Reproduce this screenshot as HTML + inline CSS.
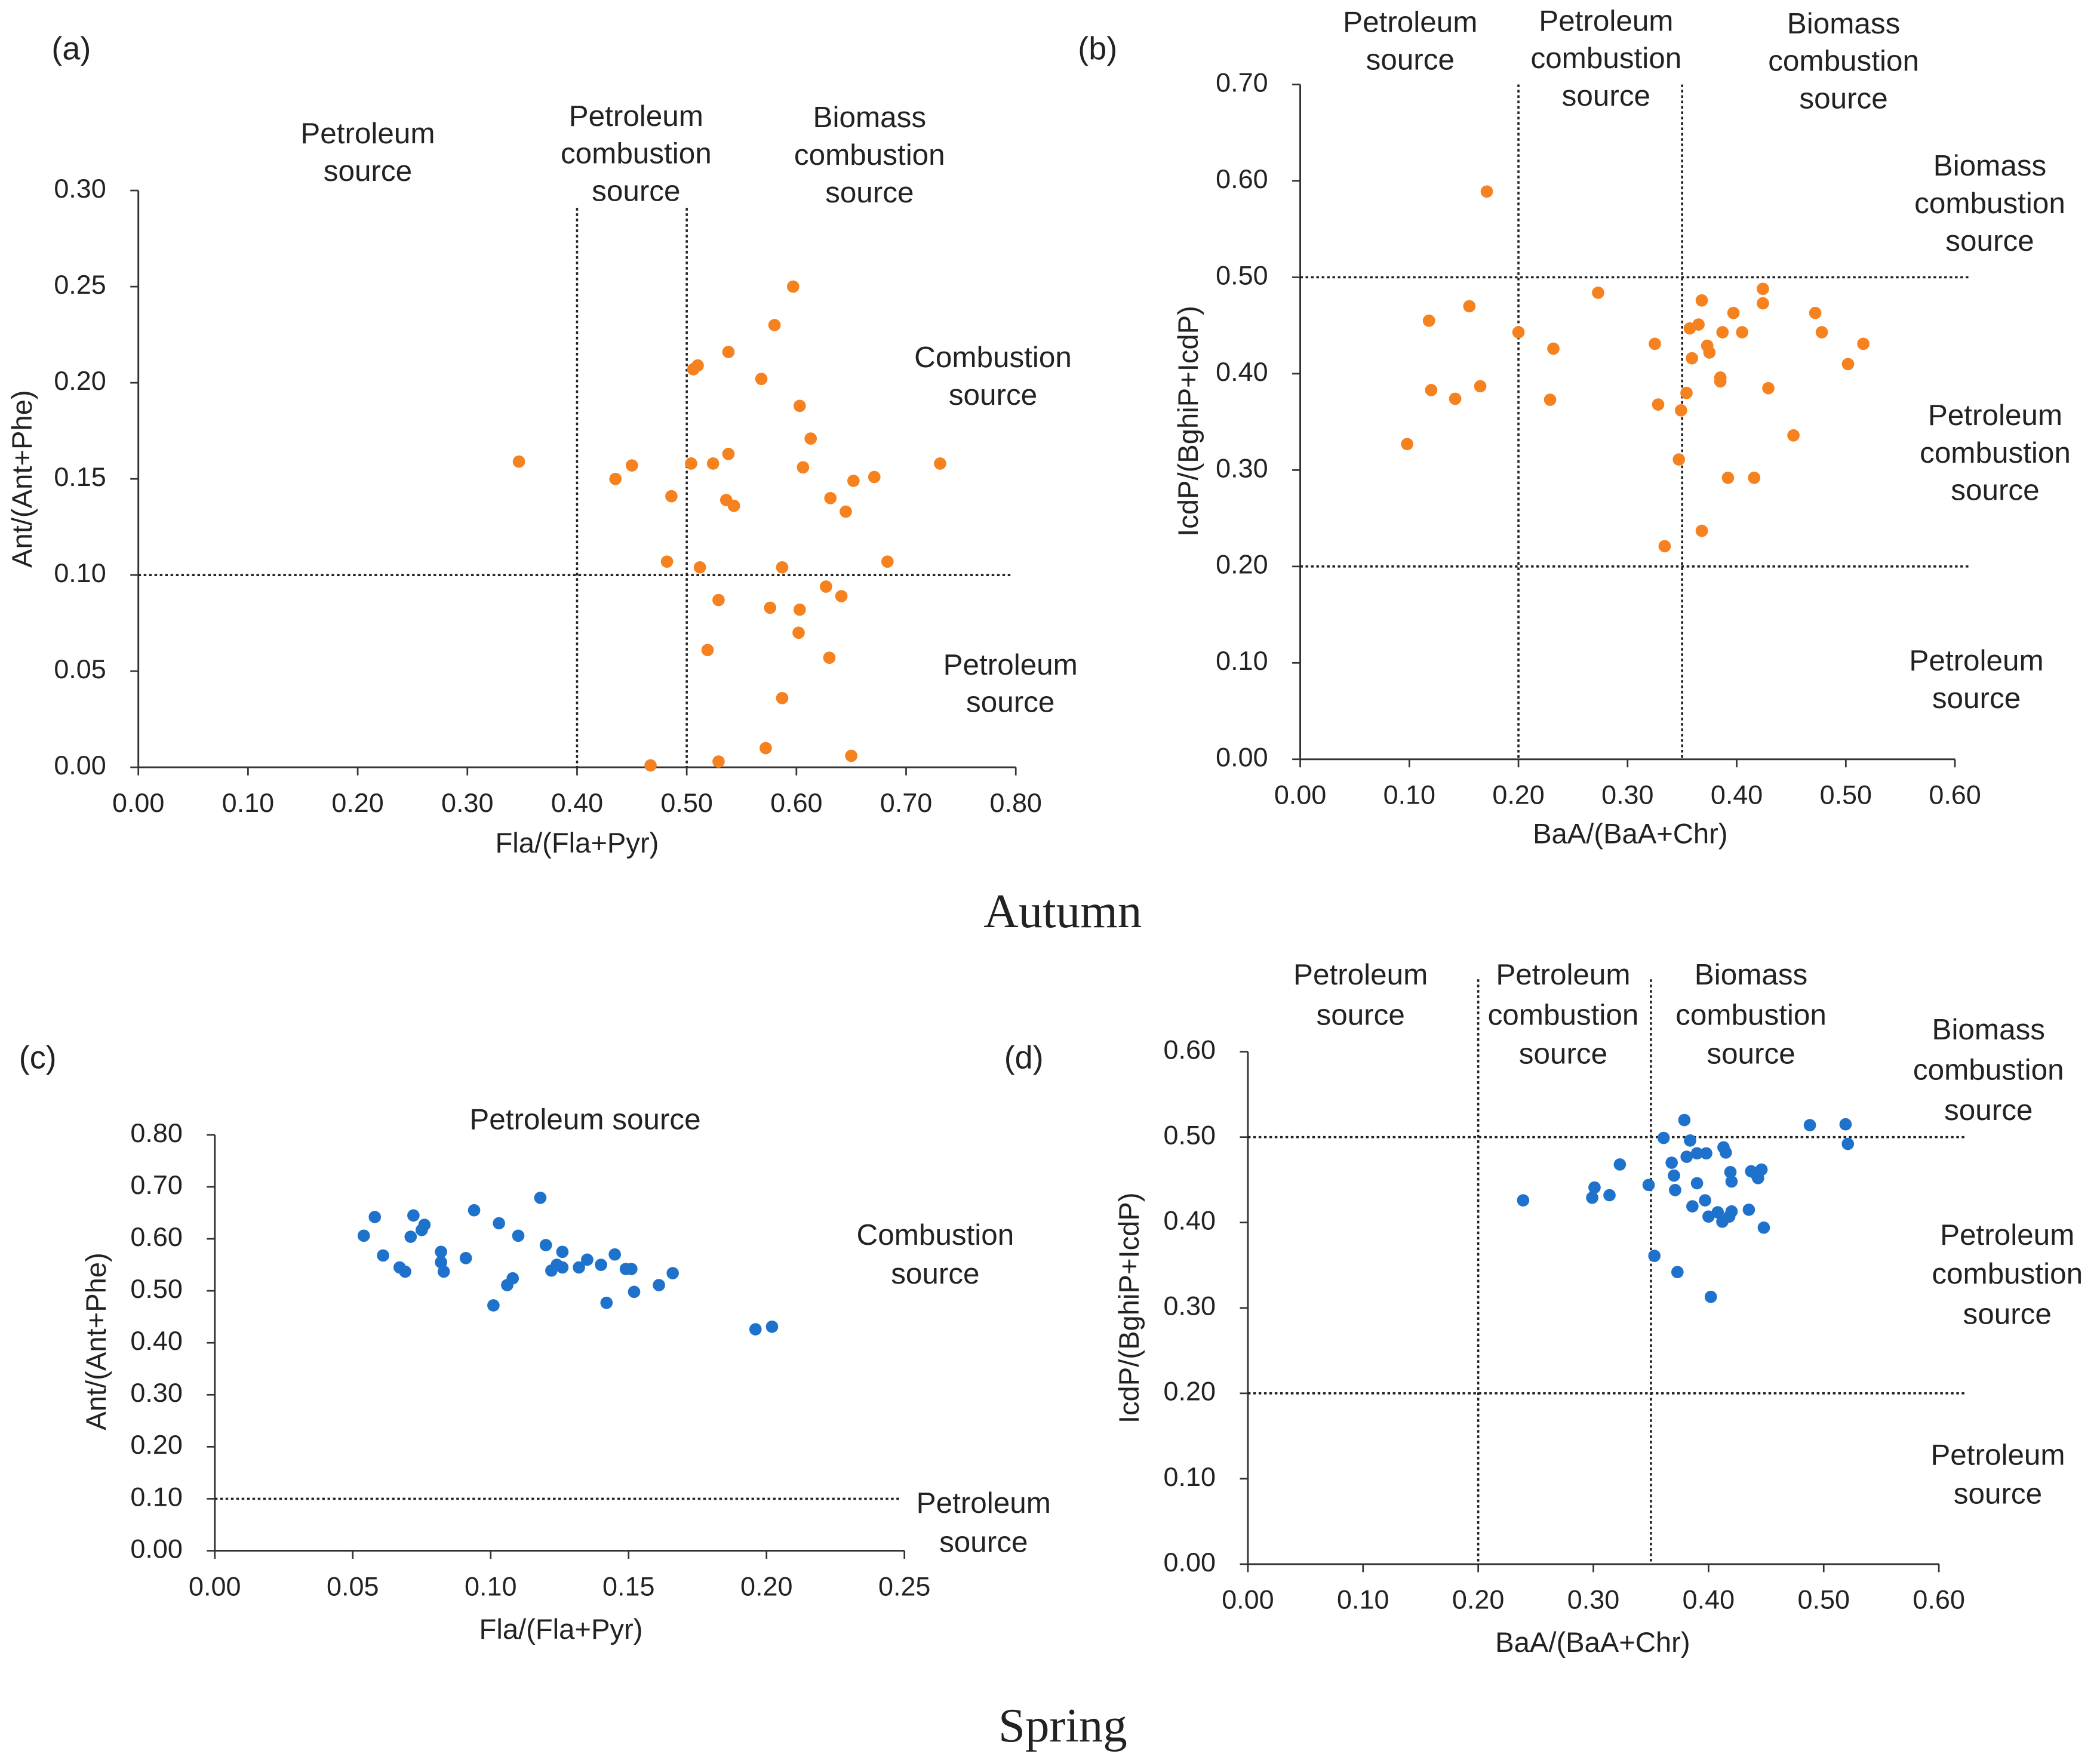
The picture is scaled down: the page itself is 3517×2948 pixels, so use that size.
<!DOCTYPE html>
<html><head><meta charset="utf-8"><style>
html,body{margin:0;padding:0;background:#fff}
svg{display:block}
text{font-family:"Liberation Sans",Arial,sans-serif;fill:#222}
.serif{font-family:"Liberation Serif",serif}
</style></head><body>
<svg id="root" xmlns="http://www.w3.org/2000/svg" width="3517" height="2948" viewBox="0 0 1565 1312"></svg>
<script>
// Panel (a) autumn
const aX=[0.347,0.435,0.450,0.486,0.482,0.467,0.506,0.510,0.504,0.512,0.524,0.529,0.519,0.529,0.538,0.538,0.536,0.543,0.568,0.580,0.597,0.603,0.613,0.606,0.587,0.576,0.603,0.602,0.587,0.572,0.631,0.652,0.645,0.671,0.627,0.641,0.630,0.650,0.683,0.731];
const aY=[0.159,0.150,0.157,0.141,0.107,0.001,0.207,0.209,0.158,0.104,0.158,0.087,0.061,0.003,0.216,0.163,0.139,0.136,0.202,0.230,0.250,0.188,0.171,0.156,0.104,0.083,0.082,0.070,0.036,0.010,0.140,0.149,0.133,0.151,0.094,0.089,0.057,0.006,0.107,0.158];
const aXTicks=["0.00","0.10","0.20","0.30","0.40","0.50","0.60","0.70","0.80"];
const aYTicks=["0.00","0.05","0.10","0.15","0.20","0.25","0.30"];
// Panel (b) autumn
const bX=[0.171,0.098,0.118,0.120,0.142,0.155,0.165,0.200,0.232,0.229,0.273,0.325,0.328,0.334,0.347,0.349,0.354,0.357,0.359,0.365,0.368,0.373,0.375,0.368,0.387,0.385,0.385,0.392,0.397,0.405,0.416,0.424,0.424,0.429,0.452,0.472,0.478,0.502,0.516];
const bY=[0.589,0.327,0.455,0.383,0.374,0.470,0.387,0.443,0.426,0.373,0.484,0.431,0.368,0.221,0.311,0.362,0.380,0.447,0.416,0.451,0.476,0.429,0.422,0.237,0.443,0.396,0.392,0.292,0.463,0.443,0.292,0.488,0.473,0.385,0.336,0.463,0.443,0.410,0.431];
const bXTicks=["0.00","0.10","0.20","0.30","0.40","0.50","0.60"];
const bYTicks=["0.00","0.10","0.20","0.30","0.40","0.50","0.60","0.70"];
// Panel (c) spring
const cX=[0.054,0.058,0.061,0.067,0.069,0.071,0.072,0.075,0.076,0.082,0.082,0.083,0.091,0.094,0.101,0.103,0.106,0.108,0.110,0.118,0.120,0.122,0.124,0.126,0.126,0.132,0.135,0.140,0.142,0.145,0.149,0.151,0.152,0.161,0.166,0.196,0.202];
const cY=[0.606,0.642,0.568,0.545,0.537,0.604,0.645,0.617,0.627,0.575,0.555,0.537,0.563,0.655,0.472,0.630,0.511,0.524,0.606,0.679,0.588,0.539,0.550,0.575,0.545,0.545,0.560,0.550,0.477,0.570,0.542,0.542,0.498,0.511,0.534,0.426,0.431];
const cXTicks=["0.00","0.05","0.10","0.15","0.20","0.25"];
const cYTicks=["0.00","0.10","0.20","0.30","0.40","0.50","0.60","0.70","0.80"];
// Panel (d) spring
const dX=[0.239,0.301,0.299,0.314,0.323,0.348,0.353,0.361,0.368,0.370,0.371,0.373,0.379,0.381,0.384,0.386,0.390,0.390,0.398,0.397,0.400,0.402,0.408,0.412,0.413,0.415,0.418,0.419,0.420,0.420,0.435,0.437,0.441,0.443,0.446,0.448,0.488,0.519,0.521];
const dY=[0.426,0.441,0.429,0.432,0.468,0.444,0.361,0.499,0.470,0.455,0.438,0.342,0.520,0.477,0.496,0.419,0.481,0.446,0.481,0.426,0.407,0.313,0.412,0.401,0.488,0.482,0.407,0.459,0.448,0.413,0.415,0.460,0.457,0.452,0.462,0.394,0.514,0.515,0.492];
const dXTicks=["0.00","0.10","0.20","0.30","0.40","0.50","0.60"];
const dYTicks=["0.00","0.10","0.20","0.30","0.40","0.50","0.60"];

const NS="http://www.w3.org/2000/svg";
const root=document.getElementById('root');
function mk(tag,attrs,parent){const e=document.createElementNS(NS,tag);for(const k in attrs)e.setAttribute(k,attrs[k]);(parent||root).appendChild(e);return e;}
function txt(x,y,s,size,parent,anchor,cls){const t=mk('text',{x:x,y:y,'font-size':size,'text-anchor':anchor||'middle','dominant-baseline':'middle'},parent);if(cls)t.setAttribute('class',cls);t.textContent=s;return t;}
function multi(x,ys,lines,size,g,name){lines.forEach((l,i)=>{const t=txt(x,ys[i],l,size,g);

});}

function panel(o){
  const g=mk('g',{});
  
  
  const sx=v=>o.x0+(v-o.xmin)/(o.xmax-o.xmin)*(o.x1-o.x0);
  const sy=v=>o.y0-(v-o.ymin)/(o.ymax-o.ymin)*(o.y0-o.y1);
  const ax=mk('line',{x1:o.x0,y1:o.y0,x2:o.x1,y2:o.y0,stroke:'#333','stroke-width':1.3},g);
  
  
  const ay=mk('line',{x1:o.x0,y1:o.y0,x2:o.x0,y2:o.y1,stroke:'#333','stroke-width':1.3},g);
  
  
  o.xt.forEach(s=>{const v=parseFloat(s),x=sx(v);
    mk('line',{x1:x,y1:o.y0,x2:x,y2:o.y0+6,stroke:'#333','stroke-width':1.2},g);
    const t=txt(x,o.y0+28,s,20,g);
    
    });
  o.yt.forEach(s=>{const v=parseFloat(s),y=sy(v);
    mk('line',{x1:o.x0-6,y1:y,x2:o.x0,y2:y,stroke:'#333','stroke-width':1.2},g);
    const t=txt(o.x0-24,y,s,20,g,'end');
    
    });
  (o.vl||[]).forEach(v=>{const l=mk('line',{x1:sx(v[0]),y1:v[1],x2:sx(v[0]),y2:o.y0,stroke:'#222','stroke-width':1.6,'stroke-dasharray':'2,2'},g);
    
    });
  (o.hl||[]).forEach(v=>{const l=mk('line',{x1:o.x0,y1:sy(v[0]),x2:v[1],y2:sy(v[0]),stroke:'#222','stroke-width':1.6,'stroke-dasharray':'2,2'},g);
    
    });
  o.xs.forEach((xv,i)=>{const c=mk('circle',{cx:sx(xv),cy:sy(o.ys[i]),r:4.6,fill:o.color},g);
    
    });
  const xtit=txt(o.xtitle[1],o.xtitle[2],o.xtitle[0],21,g);
  
  
  const yt=txt(0,0,o.ytitle[0],21,g);
  yt.setAttribute('transform',`translate(${o.ytitle[1]},${o.ytitle[2]}) rotate(-90)`);
  
  
  const pl=txt(o.label[1],o.label[2],o.label[0],24,g);
  
  
  o.regions.forEach(r=>multi(r[0],r[1],r[2],22,g,'region-label'));
}

const OR='#F5811F', BL='#1F72CC';
panel({name:'panel-a',x0:103,x1:757,y0:572,y1:142,xmin:0,xmax:0.8,ymin:0,ymax:0.3,xs:aX,ys:aY,color:OR,xt:aXTicks,yt:aYTicks,
  vl:[[0.4,155],[0.5,155]],hl:[[0.1,754]],xtitle:['Fla/(Fla+Pyr)',430,630],ytitle:['Ant/(Ant+Phe)',18,357],label:['(a)',53,38],
  regions:[[274,[101,129],['Petroleum','source']],[474,[88,116,144],['Petroleum','combustion','source']],[648,[89,117,145],['Biomass','combustion','source']],
  [740,[268,296],['Combustion','source']],[753,[497,525],['Petroleum','source']]]});
panel({name:'panel-b',x0:969,x1:1457,y0:566,y1:63,xmin:0,xmax:0.6,ymin:0,ymax:0.7,xs:bX,ys:bY,color:OR,xt:bXTicks,yt:bYTicks,
  vl:[[0.2,63],[0.35,63]],hl:[[0.5,1468],[0.2,1468]],xtitle:['BaA/(BaA+Chr)',1215,623],ytitle:['IcdP/(BghiP+IcdP)',887,314],label:['(b)',818,38],
  regions:[[1051,[18,46],['Petroleum','source']],[1197,[17,45,73],['Petroleum','combustion','source']],[1374,[19,47,75],['Biomass','combustion','source']],
  [1483,[125,153,181],['Biomass','combustion','source']],[1487,[311,339,367],['Petroleum','combustion','source']],[1473,[494,522],['Petroleum','source']]]});
panel({name:'panel-c',x0:160,x1:674,y0:1156,y1:846,xmin:0,xmax:0.25,ymin:0,ymax:0.8,xs:cX,ys:cY,color:BL,xt:cXTicks,yt:cYTicks,
  vl:[],hl:[[0.1,672]],xtitle:['Fla/(Fla+Pyr)',418,1216],ytitle:['Ant/(Ant+Phe)',73,1000],label:['(c)',28,790],
  regions:[[436,[836],['Petroleum source']],[697,[922,951],['Combustion','source']],[733,[1122,1151],['Petroleum','source']]]});
panel({name:'panel-d',x0:930,x1:1445,y0:1166,y1:784,xmin:0,xmax:0.6,ymin:0,ymax:0.6,xs:dX,ys:dY,color:BL,xt:dXTicks,yt:dYTicks,
  vl:[[0.2,730],[0.35,730]],hl:[[0.5,1466],[0.2,1466]],xtitle:['BaA/(BaA+Chr)',1187,1226],ytitle:['IcdP/(BghiP+IcdP)',843,975],label:['(d)',763,790],
  regions:[[1014,[728,758],['Petroleum','source']],[1165,[728,758,787],['Petroleum','combustion','source']],[1305,[728,758,787],['Biomass','combustion','source']],
  [1482,[769,799,829],['Biomass','combustion','source']],[1496,[922,951,981],['Petroleum','combustion','source']],[1489,[1086,1115],['Petroleum','source']]]});

const au=txt(792,683,'Autumn',36,root,'middle','serif');


const sp=txt(792,1290,'Spring',36,root,'middle','serif');


</script>
</body></html>
